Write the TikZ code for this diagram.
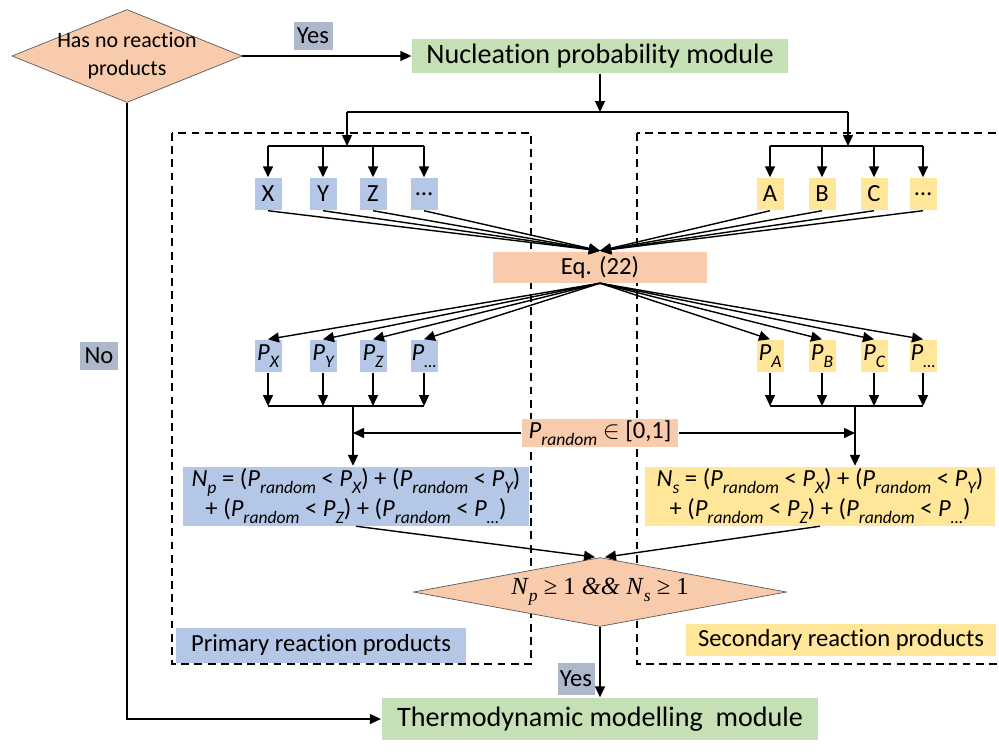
\documentclass[tikz,border=0pt]{standalone}
\usepackage{fontspec}
\setmainfont[Ligatures=NoCommon]{Carlito}
\newfontfamily\tmsfont{Liberation Serif}
\usetikzlibrary{arrows.meta, shapes.geometric, positioning}

\definecolor{peach}{HTML}{F8CBAD}
\definecolor{leaf}{HTML}{C5E0B4}
\definecolor{sky}{HTML}{B4C7E7}
\definecolor{straw}{HTML}{FFE699}
\definecolor{slate}{HTML}{ADB9CA}

\newcommand{\lowsub}[1]{\raisebox{-0.28em}{\fontsize{10}{12}\selectfont\itshape #1}}
\newcommand{\Psub}[1]{\textit{P}\lowsub{#1}}
\newcommand{\Nsub}[1]{\textit{N}\lowsub{#1}}

\begin{document}
\begin{tikzpicture}[x=0.02cm, y=-0.02cm, >={Triangle[length=2.2mm,width=2mm]}, thick,
  every node/.style={font=\fontsize{14}{17}\selectfont},
  module/.style={fill=leaf, inner sep=0pt, font=\fontsize{16}{19}\selectfont},
  decision/.style={diamond, fill=peach, draw=black!65, line width=0.4pt, inner sep=0pt},
  tag/.style={fill=slate, minimum width=0.78cm, minimum height=0.56cm, inner sep=0pt},
  smallbox/.style={minimum width=0.54cm, minimum height=0.64cm, inner sep=0pt},
  xbox/.style={smallbox, fill=sky},
  abox/.style={smallbox, fill=straw},
  groupframe/.style={draw, dash pattern=on 4.5pt off 3pt, semithick}]
\useasboundingbox (0,0) rectangle (999,755);

% group frames
\draw[groupframe] (172,133) rectangle (531,664);
\draw[groupframe] (637,133) rectangle (1010,664);

% top decision and modules
\node[decision, minimum width=4.6cm, minimum height=1.86cm,
  label={[align=center, font=\fontsize{12.5}{16}\selectfont]center:{Has no reaction\\products}}] (hasno) at (127,56) {};
\node[module, minimum width=7.52cm, minimum height=0.68cm] (nuc) at (600,56) {Nucleation probability module};
\node[tag] (yes1) at (313,36) {Yes};
\draw[->] (hasno) -- (nuc);
\node[module, minimum width=8.74cm, minimum height=0.84cm] (thermo) at (600,719) {Thermodynamic modelling\ \ module};
\node[tag] (no) at (99,356) {No};
\draw[->] (hasno.south) |- (thermo.west);

% split into the two groups
\coordinate (splitL) at (347,112);
\coordinate (splitR) at (848,112);
\coordinate (forkL) at (347,146);
\coordinate (forkR) at (848,146);
\draw[->] (nuc) -- (nuc |- splitL);
\draw (splitL) -- (splitR);
\draw[->] (splitL) -- (forkL);
\draw[->] (splitR) -- (forkR);

\node[xbox] (X) at (268,194) {X};
\node[xbox] (Y) at (323,194) {Y};
\node[xbox] (Z) at (373,194) {Z};
\node[xbox] (xdots) at (424,194) {\dots};
\node[abox] (A) at (770,194) {A};
\node[abox] (B) at (822,194) {B};
\node[abox] (C) at (874,194) {C};
\node[abox] (adots) at (923,194) {\dots};
\draw (X |- forkL) -- (xdots |- forkL);
\draw (A |- forkR) -- (adots |- forkR);
\foreach \n in {X,Y,Z,xdots} \draw[->] (\n |- forkL) -- (\n);
\foreach \n in {A,B,C,adots} \draw[->] (\n |- forkR) -- (\n);

% probabilities
\node[fill=peach, minimum width=4.28cm, minimum height=0.62cm, inner sep=0pt] (eq) at (600,267) {Eq. (22)};
\foreach \n in {X,Y,Z,xdots,A,B,C,adots} \draw[->] (\n.south) -- (eq.north);

\node[xbox] (PX) at (268,356) {\Psub{X}};
\node[xbox] (PY) at (323,356) {\Psub{Y}};
\node[xbox] (PZ) at (373,356) {\Psub{Z}};
\node[xbox] (Pxdots) at (424,356) {\Psub{\dots}};
\node[abox] (PA) at (770,356) {\Psub{A}};
\node[abox] (PB) at (822,356) {\Psub{B}};
\node[abox] (PC) at (874,356) {\Psub{C}};
\node[abox] (Padots) at (923,356) {\Psub{\dots}};
\foreach \n in {PX,PY,PZ,Pxdots,PA,PB,PC,Padots} \draw[->] (eq.south) -- (\n.north);

\coordinate (joinL) at (353,406);
\coordinate (joinR) at (855,406);
\foreach \n in {PX,PY,PZ,Pxdots} \draw[->] (\n) -- (\n |- joinL);
\foreach \n in {PA,PB,PC,Padots} \draw[->] (\n) -- (\n |- joinR);
\draw (PX |- joinL) -- (Pxdots |- joinL);
\draw (PA |- joinR) -- (Padots |- joinR);

\node[fill=peach, minimum width=3.14cm, minimum height=0.56cm, inner sep=0pt] (prand) at (600,433) {\Psub{random} $\in$ [0,1]};
\draw[->] (prand) -- (prand -| joinL);
\draw[->] (prand) -- (prand -| joinR);

% counts
\node[fill=sky, minimum width=6.92cm, minimum height=1.18cm, inner sep=0pt, align=center] (Np) at (356,496)
  {\Nsub{p} = (\Psub{random} < \Psub{X}) + (\Psub{random} < \Psub{Y})\\+ (\Psub{random} < \Psub{Z}) + (\Psub{random} < \Psub{\dots})};
\node[fill=straw, minimum width=7cm, minimum height=1.18cm, inner sep=0pt, align=center] (Ns) at (820,496)
  {\Nsub{s} = (\Psub{random} < \Psub{X}) + (\Psub{random} < \Psub{Y})\\+ (\Psub{random} < \Psub{Z}) + (\Psub{random} < \Psub{\dots})};
\draw[->] (joinL) -- (joinL |- Np.north);
\draw[->] (joinR) -- (joinR |- Ns.north);

\node[decision, minimum width=7.46cm, minimum height=1.38cm,
  label={[font=\tmsfont\fontsize{14}{16}\selectfont]center:{\Nsub{p} ≥ 1 \textit{\&\&} \Nsub{s} ≥ 1}}] (cond) at (600,592) {};
\draw[->] (Np.south) -- ([xshift=-0.1cm]cond.north);
\draw[->] (Ns.south) -- ([xshift=0.1cm]cond.north);
\node[fill=sky, minimum width=5.8cm, minimum height=0.7cm, inner sep=0pt] (primary) at (321,645) {Primary reaction products};
\node[fill=straw, minimum width=6.22cm, minimum height=0.64cm, inner sep=0pt] (secondary) at (841,640) {Secondary reaction products};
\node[tag, minimum width=0.74cm, minimum height=0.64cm] (yes2) at (576,679) {Yes};
\draw[->] (cond.south) -- (thermo.north);
\end{tikzpicture}
\end{document}
